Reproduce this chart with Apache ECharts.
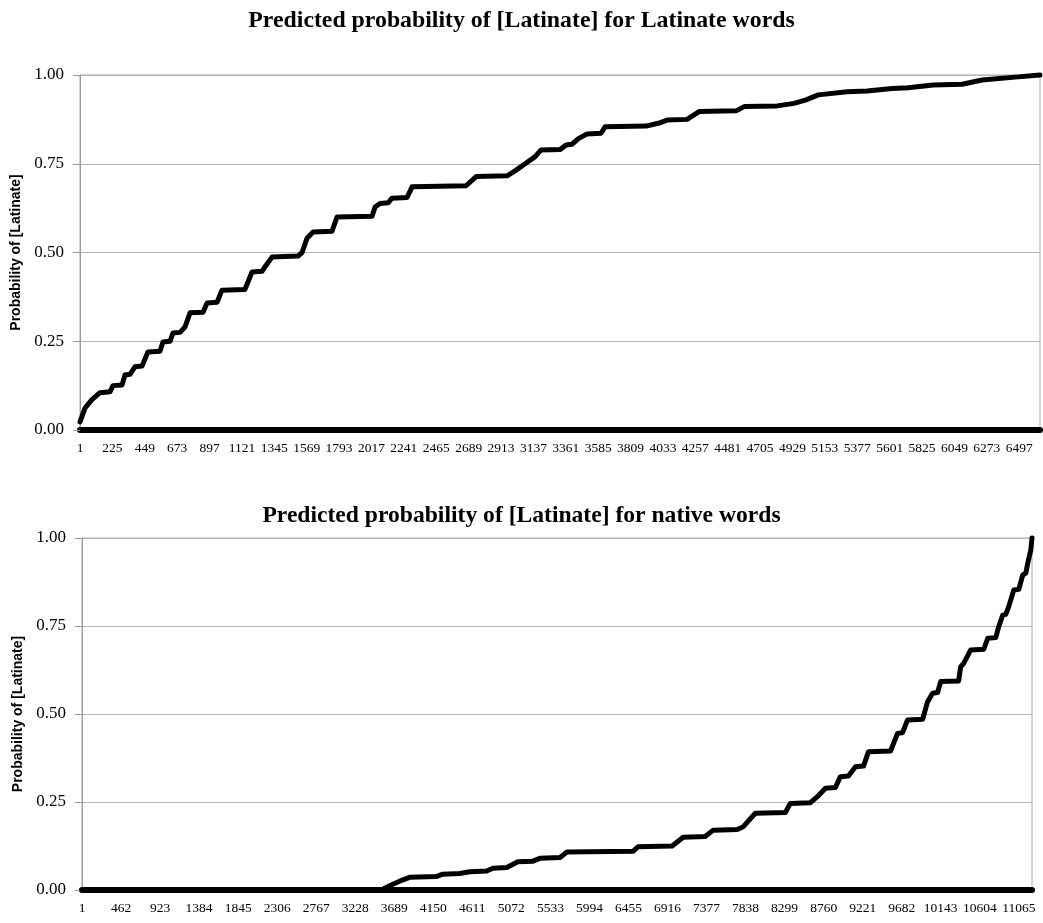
<!DOCTYPE html>
<html>
<head>
<meta charset="utf-8">
<script src="https://cdn.jsdelivr.net/npm/echarts@6/dist/echarts.min.js"></script>
<style>
html,body{margin:0;padding:0;background:#fff;}
#chart{width:1043px;height:923px;}
</style>
</head>
<body>
<div id="chart"></div>
<script>
// Top panel: Latinate words (x = rank - 1)
var latRank = [0, 35, 81, 138, 208, 228, 291, 311, 346, 380, 429, 470, 553, 574, 623, 643, 692, 726, 761, 851, 879, 948, 982, 1141, 1190, 1259, 1280, 1328, 1508, 1536, 1570, 1612, 1743, 1778, 2020, 2041, 2075, 2131, 2158, 2262, 2297, 2670, 2740, 2954, 3009, 3079, 3148, 3189, 3321, 3362, 3404, 3445, 3507, 3604, 3632, 3916, 3999, 4061, 4199, 4282, 4538, 4594, 4822, 4939, 5022, 5106, 5306, 5445, 5617, 5728, 5901, 6102, 6240, 6468, 6640];
var latProb = [0.023, 0.062, 0.085, 0.105, 0.108, 0.125, 0.127, 0.155, 0.157, 0.178, 0.18, 0.22, 0.222, 0.248, 0.25, 0.273, 0.275, 0.29, 0.33, 0.332, 0.358, 0.36, 0.394, 0.396, 0.445, 0.447, 0.46, 0.487, 0.49, 0.50, 0.54, 0.558, 0.56, 0.60, 0.602, 0.628, 0.638, 0.64, 0.653, 0.655, 0.685, 0.688, 0.714, 0.716, 0.73, 0.75, 0.77, 0.789, 0.79, 0.803, 0.805, 0.82, 0.834, 0.836, 0.854, 0.856, 0.864, 0.873, 0.875, 0.897, 0.899, 0.911, 0.913, 0.92, 0.93, 0.944, 0.953, 0.955, 0.962, 0.964, 0.972, 0.974, 0.986, 0.994, 1.0];
var latMax = 6640, latStep = 224;

// Bottom panel: native words (x = rank - 1)
var natRank = [0, 3535, 3633, 3751, 3869, 4185, 4260, 4461, 4579, 4780, 4852, 5017, 5147, 5325, 5408, 5644, 5727, 6508, 6568, 6970, 7100, 7360, 7455, 7739, 7810, 7952, 8307, 8366, 8603, 8685, 8780, 8898, 8957, 9052, 9135, 9230, 9289, 9549, 9632, 9691, 9750, 9928, 9987, 10046, 10105, 10141, 10354, 10377, 10413, 10496, 10650, 10697, 10792, 10827, 10874, 10910, 10945, 11005, 11064, 11111, 11147, 11170, 11206, 11220];
var natProb = [0, 0, 0.012, 0.025, 0.036, 0.038, 0.045, 0.047, 0.052, 0.054, 0.062, 0.064, 0.080, 0.082, 0.09, 0.092, 0.108, 0.110, 0.123, 0.125, 0.15, 0.152, 0.170, 0.172, 0.18, 0.218, 0.22, 0.246, 0.248, 0.265, 0.289, 0.291, 0.322, 0.324, 0.35, 0.352, 0.393, 0.395, 0.445, 0.447, 0.483, 0.485, 0.535, 0.559, 0.561, 0.592, 0.594, 0.634, 0.644, 0.682, 0.684, 0.715, 0.717, 0.748, 0.781, 0.783, 0.805, 0.852, 0.854, 0.895, 0.9, 0.929, 0.966, 1.0];
var natMax = 11220, natStep = 461;

var titles = ['Predicted probability of [Latinate] for Latinate words', 'Predicted probability of [Latinate] for native words'];
var yName = 'Probability of [Latinate]';

function zip(a, b) { return a.map(function (v, i) { return [v, b[i]]; }); }

var serif = 'Liberation Serif, Times New Roman, serif';
var sans = 'Liberation Sans, Arial, sans-serif';

function xAx(idx, max, step) {
  return {
    type: 'value', gridIndex: idx, min: 0, max: max, interval: step,
    axisLine: { show: true, onZero: false, lineStyle: { color: '#000', width: 6 } },
    axisTick: { show: false },
    splitLine: { show: false },
    axisLabel: {
      formatter: function (v) { return String(v + 1); },
      showMaxLabel: false, showMinLabel: true,
      fontFamily: serif, fontSize: 13.5, color: '#000', margin: 11
    }
  };
}
function yAx(idx) {
  return {
    type: 'value', gridIndex: idx, min: 0, max: 1, interval: 0.25,
    name: yName, nameLocation: 'middle', nameGap: 53,
    nameTextStyle: { fontFamily: sans, fontWeight: 'bold', fontSize: 14, color: '#000' },
    axisLine: { show: true, lineStyle: { color: '#9a9a9a', width: 1 } },
    axisTick: { show: true, length: 7, lineStyle: { color: '#9a9a9a' } },
    splitLine: { show: true, lineStyle: { color: '#b4b4b4', width: 1 } },
    axisLabel: {
      formatter: function (v) { return v.toFixed(2); },
      fontFamily: serif, fontSize: 17, color: '#000', margin: 16
    }
  };
}
function ser(idx, data) {
  return {
    type: 'line', xAxisIndex: idx, yAxisIndex: idx, data: data,
    symbol: 'none', showSymbol: false, clip: false,
    lineStyle: { color: '#000', width: 5, join: 'round', cap: 'round' },
    animation: false
  };
}

var chart = echarts.init(document.getElementById('chart'));
chart.setOption({
  backgroundColor: '#fff',
  animation: false,
  title: [
    { text: titles[0], left: 'center', top: 4, textStyle: { fontFamily: serif, fontWeight: 'bold', fontSize: 23.8, color: '#000' } },
    { text: titles[1], left: 'center', top: 499, textStyle: { fontFamily: serif, fontWeight: 'bold', fontSize: 23.6, color: '#000' } }
  ],
  grid: [
    { left: 80, top: 75, width: 960, height: 355, show: true, borderColor: '#a8a8a8', borderWidth: 1, backgroundColor: 'transparent' },
    { left: 82, top: 538, width: 950, height: 352, show: true, borderColor: '#a8a8a8', borderWidth: 1, backgroundColor: 'transparent' }
  ],
  xAxis: [xAx(0, latMax, latStep), xAx(1, natMax, natStep)],
  yAxis: [yAx(0), yAx(1)],
  series: [ser(0, zip(latRank, latProb)), ser(1, zip(natRank, natProb))]
});
</script>
</body>
</html>
